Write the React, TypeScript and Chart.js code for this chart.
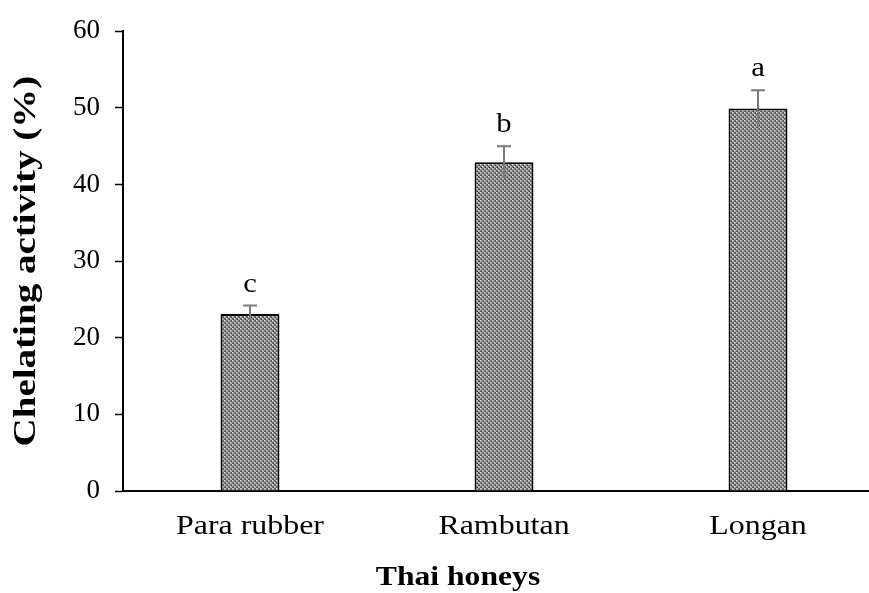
import { useEffect, useRef } from "react";
import { Chart, registerables } from "chart.js";

Chart.register(...registerables);

const categories = ["Para rubber", "Rambutan", "Longan"];
const activity = [23.1, 42.9, 49.9];
const stdError = [1.1, 2.1, 2.4];
const groupLetters = ["c", "b", "a"];
const yMin = 0;
const yMax = 60;
const yStep = 10;
const yAxisTitle = "Chelating activity (%)";
const xAxisTitle = "Thai honeys";

const SERIF = "'Liberation Serif', 'Times New Roman', serif";

function makeCheckerPattern(): CanvasPattern | string {
  const tile = document.createElement("canvas");
  tile.width = 4;
  tile.height = 4;
  const t = tile.getContext("2d");
  if (!t) return "#8c8c8c";
  t.fillStyle = "#a6a6a6";
  t.fillRect(0, 0, 4, 4);
  t.fillStyle = "#6c6c6c";
  t.fillRect(2, 0, 2, 2);
  t.fillRect(0, 2, 2, 2);
  t.fillStyle = "#dcdcdc";
  t.fillRect(0, 0, 1, 1);
  t.fillRect(2, 2, 1, 1);
  t.fillStyle = "#444444";
  t.fillRect(3, 1, 1, 1);
  t.fillRect(1, 3, 1, 1);
  const ctx = document.createElement("canvas").getContext("2d");
  const p = ctx ? ctx.createPattern(tile, "repeat") : null;
  return p || "#8c8c8c";
}

// Draws text widened along its own reading direction
function wideText(ctx: any, text: string, x: number, y: number, sx: number, angle = 0) {
  ctx.save();
  ctx.translate(x, y);
  if (angle) ctx.rotate(angle);
  ctx.scale(sx, 1);
  ctx.fillText(text, 0, 0);
  ctx.restore();
}

// Error bars plus the significance letters above each bar
const errorBarPlugin = {
  id: "errorBars",
  afterDatasetsDraw(chart: any) {
    const ctx = chart.ctx;
    const meta = chart.getDatasetMeta(0);
    const y = chart.scales.y;
    ctx.save();
    meta.data.forEach((bar: any, i: number) => {
      const x = bar.x;
      const top = y.getPixelForValue(activity[i] + stdError[i]);
      const bottom = y.getPixelForValue(activity[i] - stdError[i]);
      ctx.strokeStyle = "#7a7a7a";
      ctx.lineWidth = 2;
      ctx.beginPath();
      ctx.moveTo(x, bottom);
      ctx.lineTo(x, top);
      ctx.moveTo(x - 7, top);
      ctx.lineTo(x + 7, top);
      ctx.stroke();

      ctx.fillStyle = "#000";
      ctx.font = `28px ${SERIF}`;
      ctx.textAlign = "center";
      ctx.textBaseline = "alphabetic";
      wideText(ctx, groupLetters[i], x, top - 14, 1.1);
    });
    ctx.restore();
  },
};

// Category labels and both axis titles
const axisTextPlugin = {
  id: "axisText",
  afterDraw(chart: any) {
    const ctx = chart.ctx;
    const xs = chart.scales.x;
    const area = chart.chartArea;
    ctx.save();
    ctx.fillStyle = "#000";
    ctx.textBaseline = "alphabetic";
    ctx.textAlign = "center";

    ctx.font = `28px ${SERIF}`;
    categories.forEach((label, i) => {
      wideText(ctx, label, xs.getPixelForTick(i), area.bottom + 43, 1.14);
    });

    ctx.font = `bold 28px ${SERIF}`;
    wideText(ctx, xAxisTitle, 458, area.bottom + 94, 1.13);

    ctx.font = `bold 32px ${SERIF}`;
    wideText(ctx, yAxisTitle, 35, (area.top + area.bottom) / 2, 1.22, -Math.PI / 2);
    ctx.restore();
  },
};

export default function App() {
  const canvasRef = useRef<HTMLCanvasElement | null>(null);

  useEffect(() => {
    const canvas = canvasRef.current;
    if (!canvas) return;
    const chart = new Chart(canvas, {
      type: "bar",
      data: {
        labels: categories,
        datasets: [
          {
            data: activity,
            backgroundColor: makeCheckerPattern() as any,
            borderColor: "#000",
            borderWidth: 2,
            categoryPercentage: 1,
            barPercentage: 0.232,
          },
        ],
      },
      plugins: [errorBarPlugin, axisTextPlugin],
      options: {
        animation: false,
        responsive: false,
        maintainAspectRatio: false,
        layout: { padding: { top: 27, right: 0, left: 0, bottom: 0 } },
        plugins: {
          legend: { display: false },
          tooltip: { enabled: false },
        },
        scales: {
          x: {
            grid: { display: false },
            border: { display: true, color: "#000", width: 2 },
            ticks: { display: false },
            afterFit(scale: any) {
              scale.height = 102;
            },
          },
          y: {
            min: yMin,
            max: yMax,
            grid: {
              drawOnChartArea: false,
              drawTicks: true,
              tickLength: 8,
              tickWidth: 1.5,
              tickColor: "#000",
            },
            border: { display: true, color: "#000", width: 2 },
            ticks: {
              stepSize: yStep,
              color: "#000",
              padding: 15,
              font: { family: SERIF, size: 27 },
            },
            afterFit(scale: any) {
              scale.width = 123;
            },
          },
        },
      },
    });
    return () => chart.destroy();
  }, []);

  return (
    <div
      style={{
        position: "fixed",
        left: 0,
        top: 0,
        width: 869,
        height: 593,
        overflow: "hidden",
        background: "#fff",
      }}
    >
      <canvas ref={canvasRef} width={885} height={593} style={{ display: "block" }} />
    </div>
  );
}
